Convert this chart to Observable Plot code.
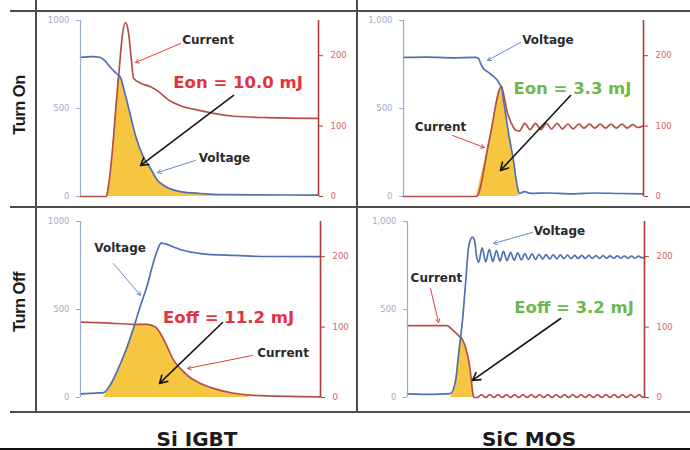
<!DOCTYPE html>
<html>
<head>
<meta charset="utf-8">
<script src="https://cdn.jsdelivr.net/npm/d3@7"></script>
<script src="https://cdn.jsdelivr.net/npm/@observablehq/plot@0.6"></script>
<style>
  body { margin: 0; background: #fff; }
  #fig { position: relative; width: 690px; height: 450px; overflow: hidden; background: #fff; }
  .rule { position: absolute; background: #4d4d4d; }
  .cell { position: absolute; }
  .cell svg { overflow: visible; display: block; }
  .rowlab { position: absolute; font-family: "Liberation Sans", Arial, sans-serif; font-weight: bold;
            font-size: 16.5px; letter-spacing: -0.5px; color: #1b1b1b; white-space: nowrap;
            transform: translate(-50%, -50%) rotate(-90deg); }
  .collab { position: absolute; font-family: "DejaVu Sans", sans-serif; font-weight: bold;
            font-size: 20px; color: #1b1b1b; white-space: nowrap; transform: translate(-50%, -50%); }
</style>
</head>
<body>
<div id="fig"></div>
<script>
// ---- Switching waveforms: time (arbitrary units 0–100 across each panel) ----
// Voltage in V, current in A.

const rowNames = ["Turn On", "Turn Off"];
const deviceNames = ["Si IGBT", "SiC MOS"];
const energyLabels = ["Eon = 10.0 mJ", "Eon = 3.3 mJ", "Eoff = 11.2 mJ", "Eoff = 3.2 mJ"];

const voltTicks = [0, 500, 1000];
const ampTicks = [0, 100, 200];
const voltMax = 1000;
const ampMax = 250;   // right axis top lines up with 1000 V

// Si IGBT, turn on
const igbtOnVoltage = [
  [0, 790], [5, 795], [8.4, 790], [10.1, 773], [12.6, 733], [15.1, 699], [16.8, 676],
  [18.9, 574], [21, 460], [23.1, 347], [26.5, 222], [29.4, 159], [32.4, 91], [35.7, 57],
  [42, 28], [50.4, 17], [58.8, 11], [75.6, 9], [100, 8]
];
const igbtOnCurrent = [
  [0, 0], [10.9, 0], [11.8, 16], [13.4, 65], [15.1, 136], [16.4, 186], [17.6, 229],
  [18.9, 247], [20.2, 232], [21.4, 193], [22.3, 168], [25.2, 161], [29.4, 156], [32.4, 150],
  [34.9, 143], [36.6, 138], [42, 129], [50.4, 122], [55.9, 118], [64.3, 114], [78.6, 112], [100, 111]
];
// switching-loss envelope, on the voltage axis
const igbtOnLoss = [
  [10.9, 0], [11.8, 64], [13.4, 260], [15.1, 544], [16, 686], [16.8, 676], [18.9, 574],
  [21, 460], [23.1, 347], [26.5, 222], [29.4, 159], [32.4, 91], [35.7, 57], [42, 28],
  [50.4, 17], [58.8, 11]
];

// SiC MOSFET, turn on
const sicOnVoltage = [
  [0, 790], [10, 792], [20, 788], [30, 790], [31.3, 784], [32.1, 756], [33.3, 727],
  [35.4, 705], [37.5, 682], [39.2, 659], [40.4, 631], [40.8, 625], [41.7, 545], [43.8, 358],
  [45.8, 205], [47.5, 51], [48.3, 17], [50.4, 28], [53, 18], [60, 20], [70, 15], [80, 20],
  [90, 17], [100, 15]
];
const sicOnCurrent = [
  [0, 0], [30.4, 0], [35.8, 81], [40.8, 156], [42.1, 139], [43.3, 119], [45, 104],
  [46.7, 94], [48.3, 93], [50.5, 104], [52.7, 95], [55, 104], [57.2, 95], [59.5, 104],
  [61.7, 96], [64, 104], [66.2, 96], [68.5, 103], [70.7, 96], [73, 103], [75.2, 97],
  [77.5, 103], [79.7, 97], [82, 103], [84.2, 97], [86.5, 103], [88.7, 97], [91, 103],
  [93.2, 97], [95.5, 102], [97.7, 98], [100, 101]
];
const sicOnLoss = [
  [30.4, 0], [35.8, 324], [40.8, 624], [41.7, 545], [43.8, 358], [45.8, 205], [47.5, 51], [48.3, 0]
];

// Si IGBT, turn off
const igbtOffVoltage = [
  [0, 20], [6.3, 25], [9.7, 28], [12.5, 74], [16, 172], [19.2, 278], [22.2, 399], [25, 523],
  [27.8, 636], [30, 750], [32, 835], [33.6, 877], [35.4, 873], [38.9, 854], [43, 835],
  [50, 818], [63.8, 807], [77.9, 801], [100, 800]
];
const igbtOffCurrent = [
  [0, 107], [10, 106], [22.1, 104], [27.8, 104], [31.3, 100], [33.3, 91], [36.3, 71],
  [38.8, 53], [41.7, 41], [45.8, 28], [50, 20], [55.4, 13], [63.8, 6], [72.1, 3], [100, 1]
];
const igbtOffLoss = [
  [9.7, 0], [12.5, 74], [16, 172], [19.2, 278], [22.2, 399], [22.6, 416], [25, 416],
  [27.8, 416], [31.3, 400], [33.3, 364], [36.3, 284], [38.8, 212], [41.7, 164], [45.8, 112],
  [50, 80], [55.4, 52], [63.8, 24], [70, 14]
];

// SiC MOSFET, turn off
const sicOffVoltage = [
  [0, 21], [10, 18], [18.1, 22], [20.3, 97], [21.5, 239], [22.4, 341], [23.2, 438],
  [24.5, 648], [25.7, 847], [26.6, 898], [27.4, 912], [28.3, 892], [29.1, 807], [30, 767],
  [31.5, 850], [33, 770], [34.5, 842], [36, 772], [37.5, 835], [39, 775], [40.5, 830],
  [42, 778], [43.5, 825], [45, 780], [46.5, 822], [48, 782], [49.5, 818], [51, 784],
  [52.5, 816], [54, 785], [55.5, 814], [57, 786], [58.5, 812], [60, 787], [61.5, 811],
  [63, 788], [64.5, 810], [66, 789], [67.5, 809], [69, 789], [70.5, 808], [72, 790],
  [73.5, 808], [75, 790], [76.5, 807], [78, 790], [79.5, 806], [81, 791], [82.5, 806],
  [84, 791], [85.5, 805], [87, 791], [88.5, 805], [90, 792], [91.5, 804], [93, 792],
  [94.5, 804], [96, 792], [97.5, 803], [99, 793], [100, 798]
];
const sicOffCurrent = [
  [0, 102], [10, 102], [16.6, 102], [19.3, 95], [21.5, 88], [23.1, 83], [24.5, 71],
  [25.8, 53], [26.8, 29], [27.6, 5], [28.3, 0], [29.5, 0], [31.2, 4], [33, 0], [34.7, 4],
  [36.5, 0], [38.2, 4], [40, 0], [41.7, 4], [43.5, 0], [45.2, 4], [47, 0], [48.7, 4],
  [50.5, 0], [52.2, 4], [54, 0], [55.7, 4], [57.5, 0], [59.2, 4], [61, 0], [62.7, 4],
  [64.5, 0], [66.2, 4], [68, 0], [69.7, 4], [71.5, 0], [73.2, 4], [75, 0], [76.7, 4],
  [78.5, 0], [80.2, 4], [82, 0], [83.7, 4], [85.5, 0], [87.2, 4], [89, 0], [90.7, 4],
  [92.5, 0], [94.2, 4], [96, 0], [97.7, 4], [99.5, 0], [100, 1]
];
const sicOffLoss = [
  [18.1, 0], [20.3, 97], [21.5, 239], [22.4, 341], [23.1, 332], [24.5, 284], [25.8, 212],
  [26.8, 116], [27.6, 20], [28.3, 0]
];

// ---- styling ----
const BLUE = "#4f70b2";
const RED = "#b4504c";
const LOSS_FILL = "#f6c640";
const AXIS_BLUE = "#98aad0";
const AXIS_RED = "#b0393b";
const TICK_BLUE = "#a2acc6";
const TICK_RED = "#d26464";
const ENERGY_RED = "#e2323e";
const ENERGY_GREEN = "#6cb84d";
const NOTE_INK = "#2a2a2a";
const ARROW_RED = "#e0403c";
const ARROW_BLUE = "#6688c8";
const ARROW_BLACK = "#151515";

const toPoints = arr => arr.map(([t, v]) => ({t, v}));
const ampToY = a => a * voltMax / ampMax;

const panels = [
  { box: {left: 37, top: 12, width: 319, height: 193}, m: [8, 38, 9, 43],
    voltage: igbtOnVoltage, current: igbtOnCurrent, loss: igbtOnLoss, comma: false,
    energy: {t: 66.2, v: 648, text: energyLabels[0], color: ENERGY_RED},
    notes: [{t: 53.6, v: 886, text: "Current"}, {t: 60.5, v: 216, text: "Voltage"}],
    arrows: [
      {x1: 42, y1: 869, x2: 23.1, y2: 761, color: ARROW_RED, w: 1},
      {x1: 48.3, y1: 205, x2: 32.4, y2: 136, color: ARROW_BLUE, w: 1},
      {x1: 64.3, y1: 574, x2: 25.2, y2: 176, color: ARROW_BLACK, w: 1.6}
    ] },
  { box: {left: 358, top: 12, width: 332, height: 193}, m: [8, 47, 9, 45],
    voltage: sicOnVoltage, current: sicOnCurrent, loss: sicOnLoss, comma: true,
    energy: {t: 70.4, v: 614, text: energyLabels[1], color: ENERGY_GREEN},
    notes: [{t: 60.2, v: 886, text: "Voltage"}, {t: 15.4, v: 392, text: "Current"}],
    arrows: [
      {x1: 48.75, y1: 875, x2: 35, y2: 773, color: ARROW_BLUE, w: 1},
      {x1: 20.4, y1: 347, x2: 33.75, y2: 278, color: ARROW_RED, w: 1},
      {x1: 69.6, y1: 574, x2: 40.4, y2: 148, color: ARROW_BLACK, w: 1.6}
    ] },
  { box: {left: 37, top: 209, width: 319, height: 201}, m: [12, 36, 13, 43],
    voltage: igbtOffVoltage, current: igbtOffCurrent, loss: igbtOffLoss, comma: false,
    energy: {t: 61.7, v: 455, text: energyLabels[2], color: ENERGY_RED},
    notes: [{t: 16.5, v: 847, text: "Voltage"}, {t: 84.4, v: 250, text: "Current"}],
    arrows: [
      {x1: 13.75, y1: 761, x2: 25, y2: 580, color: ARROW_BLUE, w: 1},
      {x1: 71.7, y1: 239, x2: 44.6, y2: 165, color: ARROW_RED, w: 1},
      {x1: 59.2, y1: 426, x2: 32.9, y2: 80, color: ARROW_BLACK, w: 1.6}
    ] },
  { box: {left: 358, top: 209, width: 332, height: 201}, m: [12, 46, 13, 49],
    voltage: sicOffVoltage, current: sicOffCurrent, loss: sicOffLoss, comma: true,
    energy: {t: 70.3, v: 511, text: energyLabels[3], color: ENERGY_GREEN},
    notes: [{t: 64.1, v: 943, text: "Voltage"}, {t: 12.2, v: 676, text: "Current"}],
    arrows: [
      {x1: 52.7, y1: 938, x2: 36.3, y2: 875, color: ARROW_BLUE, w: 1},
      {x1: 9.7, y1: 619, x2: 13.1, y2: 426, color: ARROW_RED, w: 1},
      {x1: 64.6, y1: 449, x2: 27.4, y2: 97, color: ARROW_BLACK, w: 1.6}
    ] }
];

function drawPanel(p) {
  const [mt, mr, mb, ml] = p.m;
  const fmtV = p.comma ? d3.format(",") : d3.format("d");
  return Plot.plot({
    width: p.box.width, height: p.box.height,
    marginTop: mt, marginRight: mr, marginBottom: mb, marginLeft: ml,
    x: {domain: [0, 100], axis: null},
    y: {domain: [0, voltMax], axis: null},
    style: {fontFamily: "DejaVu Sans, sans-serif", background: "transparent", overflow: "visible"},
    marks: [
      Plot.areaY(toPoints(p.loss), {x: "t", y: "v", fill: LOSS_FILL, curve: "monotone-x"}),
      Plot.line(toPoints(p.current), {x: "t", y: d => ampToY(d.v), stroke: RED, strokeWidth: 1.7, curve: "monotone-x"}),
      Plot.line(toPoints(p.voltage), {x: "t", y: "v", stroke: BLUE, strokeWidth: 1.7, curve: "monotone-x"}),
      Plot.ruleX([0], {y1: 0, y2: voltMax, stroke: AXIS_BLUE, strokeWidth: 1.2}),
      Plot.ruleX([100], {y1: 0, y2: voltMax, stroke: AXIS_RED, strokeWidth: 1.6}),
      Plot.axisY({anchor: "left", ticks: voltTicks, tickFormat: fmtV, tickSize: 4, tickPadding: 7,
                  stroke: AXIS_BLUE, fill: TICK_BLUE, fontSize: 8.5, label: null}),
      Plot.axisY({anchor: "right", ticks: ampTicks.map(ampToY), tickFormat: d => d3.format("d")(d * ampMax / voltMax),
                  tickSize: 4, tickPadding: 8, stroke: AXIS_RED, fill: TICK_RED, fontSize: 8.5, label: null}),
      ...p.arrows.map(a => Plot.arrow([a], {x1: "x1", y1: "y1", x2: "x2", y2: "y2",
                  stroke: a.color, strokeWidth: a.w, headLength: a.w > 1 ? 8 : 6})),
      Plot.text(p.notes, {x: "t", y: "v", text: "text", fill: NOTE_INK, fontSize: 12, fontWeight: "bold"}),
      Plot.text([p.energy], {x: "t", y: "v", text: "text", fill: p.energy.color, fontSize: 16.5, fontWeight: "bold"})
    ]
  });
}

const fig = document.getElementById("fig");

// table rules
const rules = [
  {left: 10, top: 10, width: 680, height: 2},
  {left: 10, top: 206, width: 680, height: 2},
  {left: 10, top: 411, width: 680, height: 2},
  {left: 35, top: 0, width: 2, height: 413},
  {left: 356, top: 0, width: 2, height: 413},
  {left: 0, top: 448, width: 690, height: 2, color: "#111"}
];
for (const r of rules) {
  const d = document.createElement("div");
  d.className = "rule";
  Object.assign(d.style, {left: r.left + "px", top: r.top + "px", width: r.width + "px", height: r.height + "px"});
  if (r.color) d.style.background = r.color;
  fig.appendChild(d);
}

for (const p of panels) {
  const cell = document.createElement("div");
  cell.className = "cell";
  Object.assign(cell.style, {left: p.box.left + "px", top: p.box.top + "px",
                             width: p.box.width + "px", height: p.box.height + "px"});
  cell.appendChild(drawPanel(p));
  fig.appendChild(cell);
}

// row and column headings
const rowPos = [{x: 19, y: 105}, {x: 19, y: 302}];
rowNames.forEach((name, i) => {
  const d = document.createElement("div");
  d.className = "rowlab";
  d.textContent = name;
  d.style.left = rowPos[i].x + "px";
  d.style.top = rowPos[i].y + "px";
  fig.appendChild(d);
});
const colPos = [{x: 197, y: 439}, {x: 529, y: 439}];
deviceNames.forEach((name, i) => {
  const d = document.createElement("div");
  d.className = "collab";
  d.textContent = name;
  d.style.left = colPos[i].x + "px";
  d.style.top = colPos[i].y + "px";
  fig.appendChild(d);
});
</script>
</body>
</html>
